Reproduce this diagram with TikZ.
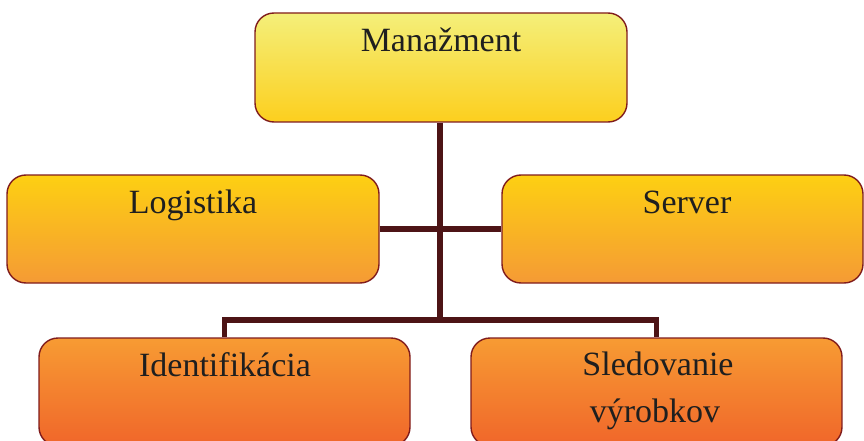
\documentclass[tikz,border=0pt]{standalone}
\usepackage{fontspec}
\setmainfont{Liberation Serif}
\usetikzlibrary{backgrounds}

\definecolor{edgered}{HTML}{801C1C}
\definecolor{linkbrown}{HTML}{4D1416}
\definecolor{ylwtop}{HTML}{F4EF7A}
\definecolor{ylwbot}{HTML}{FCCF1E}
\definecolor{goldtop}{HTML}{FDD012}
\definecolor{goldbot}{HTML}{F59A35}
\definecolor{orgtop}{HTML}{F79B33}
\definecolor{orgbot}{HTML}{F0662A}

\tikzset{
  box/.style={draw=edgered, line width=1.4pt, rounded corners=19pt,
    rectangle, inner sep=0pt, minimum height=108pt},
  lvlone/.style={box, top color=ylwtop, bottom color=ylwbot},
  lvltwo/.style={box, top color=goldtop, bottom color=goldbot},
  lvlthree/.style={box, top color=orgtop, bottom color=orgbot},
  caption/.style={anchor=base, inner sep=0pt, text=black!88,
    font=\fontsize{34}{46}\selectfont},
  link/.style={draw=linkbrown, line width=5.5pt}
}

\begin{document}
\begin{tikzpicture}[x=1pt,y=-1pt]
  \clip (0,0) rectangle (864,441);

  % boxes
  \node[lvlone, minimum width=372pt, minimum height=109pt] (man) at (441,67.5) {};
  \node[lvltwo, minimum width=372pt] (log) at (193,229) {};
  \node[lvltwo, minimum width=361pt] (srv) at (682.5,229) {};
  \node[lvlthree, minimum width=371pt] (idf) at (224.5,392) {};
  \node[lvlthree, minimum width=371pt] (sld) at (656.5,392) {};

  % labels
  \node[caption] (tman) at (441,52) {Manažment};
  \node[caption] (tlog) at (193,213) {Logistika};
  \node[caption] (tsrv) at (687,213) {Server};
  \node[caption] (tidf) at (225,376) {Identifikácia};
  \node[caption] (tsld) at (658,375) {Sledovanie};
  \node[caption] (tvyr) at (655,422) {výrobkov};

  % connectors
  \coordinate (hub) at (440,320);
  \begin{scope}[on background layer]
    \draw[link] (man.south -| hub) -- (hub);
    \draw[link] (log.east) -- (srv.west);
    \draw[link] (idf.north) |- (hub) -| (sld.north);
  \end{scope}
\end{tikzpicture}
\end{document}
